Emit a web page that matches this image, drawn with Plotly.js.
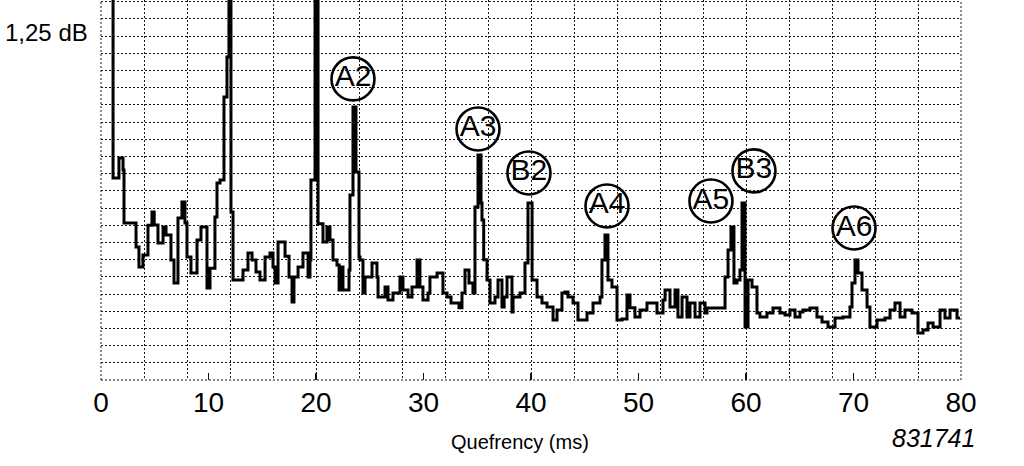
<!DOCTYPE html>
<html>
<head>
<meta charset="utf-8">
<script src="https://cdn.plot.ly/plotly-3.0.1.min.js"></script>
<style>
  html, body { margin: 0; padding: 0; background: #ffffff; }
  #chart { width: 1024px; height: 466px; }
</style>
</head>
<body>
<div id="chart"></div>
<script>
// Quefrency (ms) at which each step of the cepstrum trace begins
const quefrency = [
  0.93, 1.12, 1.67, 2.05, 2.14, 3.26, 3.53, 3.9, 4.37, 4.74,
  4.95, 5.3, 5.77, 6.05, 6.51, 6.79, 7.16, 7.53, 7.81, 8.0,
  8.37, 8.93, 9.3, 9.86, 10.14, 10.6, 10.79, 11.07, 11.44, 11.72,
  11.9, 12.09, 12.28, 13.21, 13.67, 14.05, 14.42, 14.79, 15.26, 15.72,
  16.0, 16.19, 16.47, 17.12, 17.49, 17.77, 17.95, 18.33, 18.79, 19.26,
  19.44, 19.53, 19.91, 20.19, 20.65, 21.02, 21.3, 21.58, 21.95, 22.15,
  22.33, 22.51, 23.07, 23.16, 23.44, 23.72, 24.0, 24.09, 24.37, 24.56,
  25.21, 25.67, 25.77, 26.42, 26.7, 27.16, 27.81, 28.09, 28.56, 28.93,
  29.4, 29.67, 29.95, 30.42, 30.6, 31.26, 31.81, 32.19, 32.56, 33.3,
  33.58, 33.86, 34.23, 34.6, 34.79, 35.07, 35.35, 35.44, 35.6, 35.91,
  36.19, 36.65, 36.93, 37.3, 37.5, 37.77, 38.23, 38.33, 38.98, 39.44,
  39.72, 40.1, 40.56, 41.02, 41.49, 42.05, 42.42, 42.88, 43.16, 43.44,
  43.91, 44.37, 45.21, 45.77, 46.42, 46.6, 46.88, 47.16, 47.53, 48.0,
  48.47, 48.93, 49.21, 49.67, 50.14, 50.79, 51.72, 52.28, 52.47, 52.93,
  53.4, 53.67, 54.05, 54.51, 54.79, 55.26, 55.72, 56.19, 56.37, 58.05,
  58.33, 58.6, 58.88, 59.16, 59.44, 59.63, 59.91, 60.19, 60.56, 61.02,
  61.3, 61.95, 62.51, 63.16, 63.63, 64.09, 64.56, 65.02, 65.3, 65.95,
  66.6, 67.07, 67.63, 68.28, 69.02, 69.67, 69.86, 70.14, 70.42, 70.79,
  71.26, 71.53, 72.19, 72.93, 73.4, 73.86, 74.33, 74.79, 75.44, 76.0,
  76.47, 76.93, 77.4, 78.05, 78.51, 78.98, 79.63, 79.91
];
// Cepstrum level in grid divisions (1 division = 1,25 dB); peaks above 22 run off the chart
const level = [
  30, 11.75, 12.91, 12.22, 9.13, 7.74, 6.57, 7.27, 9.0, 9.77,
  9.02, 7.97, 8.9, 8.44, 6.98, 5.64, 9.42, 10.35, 9.13, 7.16,
  6.22, 8.14, 8.9, 5.35, 6.5, 9.48, 11.46, 11.63, 16.46, 18.79,
  30, 9.77, 5.82, 6.4, 7.39, 6.98, 6.28, 5.82, 7.16, 7.39,
  6.57, 5.64, 8.03, 7.2, 5.99, 4.54, 5.99, 6.57, 7.39, 5.99,
  6.98, 11.63, 30, 9.08, 8.03, 8.9, 8.14, 6.98, 6.69, 5.24,
  6.57, 5.24, 6.4, 10.76, 15.88, 12.1, 7.16, 6.98, 5.06, 5.99,
  6.81, 5.99, 4.83, 5.41, 4.65, 5.06, 5.99, 5.24, 4.83, 5.41,
  6.98, 5.41, 4.65, 5.06, 5.99, 6.22, 5.06, 4.83, 4.48, 4.2,
  5.06, 6.4, 5.64, 5.06, 10.06, 13.09, 10.3, 9.31, 7.0, 5.82,
  4.48, 4.83, 5.82, 4.25, 4.83, 5.99, 3.96, 4.83, 5.06, 6.81,
  10.3, 5.82, 4.83, 4.48, 4.25, 3.49, 4.07, 5.06, 5.12, 4.83,
  4.48, 3.49, 3.9, 4.48, 4.83, 6.98, 8.44, 5.82, 5.41, 3.49,
  3.55, 4.94, 4.2, 3.66, 4.07, 4.48, 3.9, 4.65, 5.24, 4.25,
  5.24, 3.66, 4.83, 3.66, 4.48, 3.66, 4.48, 3.9, 4.19, 5.99,
  7.56, 8.9, 5.64, 5.82, 6.4, 10.3, 3.08, 5.82, 5.41, 3.9,
  3.66, 3.9, 4.19, 3.9, 3.78, 4.07, 3.66, 3.96, 4.07, 4.19,
  3.66, 3.37, 3.08, 3.61, 3.66, 4.25, 5.64, 6.98, 6.22, 5.24,
  4.25, 3.08, 3.49, 3.61, 4.07, 4.48, 3.66, 4.07, 3.9, 2.73,
  2.91, 3.32, 3.08, 4.07, 3.61, 4.07, 3.61, 3.61
];
// Rahmonic labels (circled) and where they sit
const peakLabels = ['A2', 'A3', 'B2', 'A4', 'A5', 'B3', 'A6'];
const labelQuefrency = [23.44, 35.07, 39.81, 47.07, 56.74, 60.74, 70.05];
const labelLevel = [17.51, 14.6, 12.04, 10.12, 10.41, 12.16, 8.84];
// Axis tick labels
const xTickVals = [0, 10, 20, 30, 40, 50, 60, 70, 80];
const xTickText = ['0', '10', '20', '30', '40', '50', '60', '70', '80'];

const FONT = 'Liberation Sans, Arial, Helvetica, sans-serif';
const GRID = '#1a1a1a';

const traces = [
  {
    type: 'scatter', mode: 'lines',
    x: quefrency, y: level,
    xaxis: 'x', yaxis: 'y',
    line: { shape: 'hv', color: '#000000', width: 3 },
    hoverinfo: 'skip', showlegend: false
  },
  {
    type: 'scatter', mode: 'markers+text',
    x: labelQuefrency, y: labelLevel, text: peakLabels,
    xaxis: 'x2', yaxis: 'y',
    textposition: 'middle center',
    textfont: { family: FONT, size: 30, color: '#000000' },
    marker: { symbol: 'circle-open', size: 43, color: '#000000', line: { color: '#000000', width: 2.6 } },
    hoverinfo: 'skip', showlegend: false, cliponaxis: false
  }
];

const layout = {
  width: 1024, height: 466,
  margin: { l: 101, r: 63, t: 0, b: 86, pad: 0 },
  paper_bgcolor: '#ffffff', plot_bgcolor: '#ffffff',
  showlegend: false,
  xaxis: {
    range: [0, 80], tick0: 0, dtick: 4,
    showgrid: true, gridcolor: GRID, gridwidth: 1, griddash: '2px,2px',
    showticklabels: false, ticks: '', zeroline: false, showline: false
  },
  xaxis2: {
    overlaying: 'x', anchor: 'y', side: 'bottom',
    range: [0, 80], tickmode: 'array', tickvals: xTickVals, ticktext: xTickText,
    showgrid: false, zeroline: false, showline: false,
    ticks: 'inside', ticklen: 7, tickwidth: 1.5, tickcolor: '#111111',
    ticklabelstandoff: 3,
    tickfont: { family: FONT, size: 28, color: '#000000' }
  },
  yaxis: {
    range: [0, 22.1], tick0: 0, dtick: 1,
    showgrid: true, gridcolor: GRID, gridwidth: 1, griddash: '2px,2px',
    showticklabels: false, ticks: '', zeroline: false, showline: false
  },
  shapes: [
    {
      type: 'rect', xref: 'paper', yref: 'paper', x0: 0, x1: 1, y0: 0, y1: 1.05,
      line: { color: GRID, width: 1, dash: '2px,2px' }, fillcolor: 'rgba(0,0,0,0)', layer: 'below'
    }
  ],
  annotations: [
    {
      text: '1,25 dB', xref: 'paper', yref: 'y', x: 0, y: 20.19,
      xanchor: 'right', yanchor: 'middle', xshift: -11, showarrow: false,
      font: { family: FONT, size: 24, color: '#000000' }
    },
    {
      text: 'Quefrency (ms)', xref: 'paper', yref: 'paper', x: 0.487, y: -0.163,
      xanchor: 'center', yanchor: 'middle', showarrow: false,
      font: { family: FONT, size: 20, color: '#000000' }
    },
    {
      text: '<i>831741</i>', xref: 'paper', yref: 'paper', x: 1.0186, y: -0.1526,
      xanchor: 'right', yanchor: 'middle', showarrow: false,
      font: { family: FONT, size: 25, color: '#000000' }
    }
  ]
};

Plotly.newPlot('chart', traces, layout, { staticPlot: true, displayModeBar: false });
</script>
</body>
</html>
